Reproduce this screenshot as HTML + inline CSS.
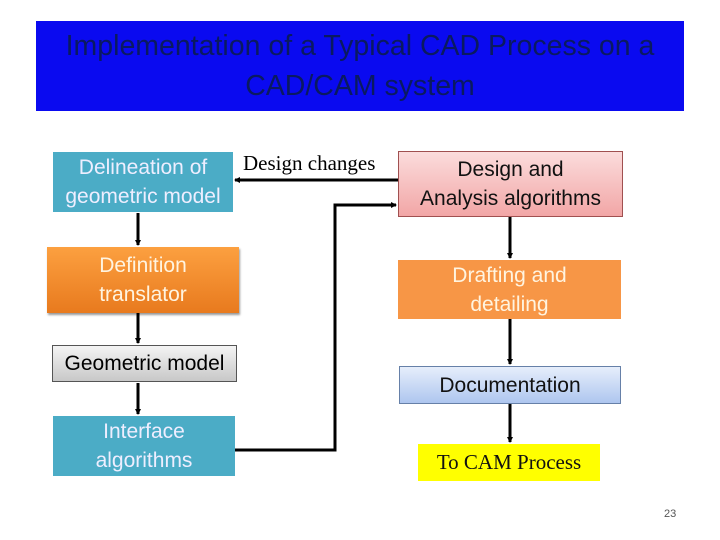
<!DOCTYPE html>
<html><head><style>
body{margin:0;width:720px;height:540px;background:#fff;position:relative;overflow:hidden;font-family:"Liberation Sans",sans-serif}
.b{position:absolute;display:flex;align-items:center;justify-content:center;text-align:center;font-size:21px;line-height:29px;box-sizing:border-box;white-space:nowrap}
</style></head><body>
<div class="b" style="left:36px;top:21px;width:648px;height:90px;background:#0a0af0;color:#0a1a60;font-size:28.5px;line-height:40px">Implementation of a Typical CAD Process on a<br>CAD/CAM system</div>

<div class="b" style="left:53px;top:152px;width:180px;height:60px;background:#4bacc6;color:#eef">Delineation of<br>geometric model</div>
<div class="b" style="left:47px;top:247px;width:192px;height:66px;background:linear-gradient(#fca040,#e87a1e);color:#fff4e0;box-shadow:1px 2px 2px #999">Definition<br>translator</div>
<div class="b" style="left:52px;top:345px;width:185px;height:37px;background:linear-gradient(#f4f4f4,#c8c8c8);border:1px solid #555;color:#000">Geometric model</div>
<div class="b" style="left:53px;top:416px;width:182px;height:60px;background:#4bacc6;color:#eef">Interface<br>algorithms</div>

<div class="b" style="left:243px;top:148px;width:160px;height:30px;justify-content:flex-start;font-family:'Liberation Serif',serif;font-size:21px">Design changes</div>

<div class="b" style="left:398px;top:151px;width:225px;height:66px;background:linear-gradient(#fbdcdc,#f2a6a6);border:1px solid #a05050;color:#111">Design and<br>Analysis algorithms</div>
<div class="b" style="left:398px;top:260px;width:223px;height:59px;background:#f79646;color:#fff4e0">Drafting and<br>detailing</div>
<div class="b" style="left:399px;top:366px;width:222px;height:38px;background:linear-gradient(#e6eefb,#aec6ef);border:1px solid #6680a8;color:#111">Documentation</div>
<div class="b" style="left:418px;top:444px;width:182px;height:37px;background:#ffff00;font-family:'Liberation Serif',serif;font-size:21px;color:#111">To CAM Process</div>

<div style="position:absolute;left:664px;top:508px;font-size:11px;color:#555">23</div>

<svg width="720" height="540" style="position:absolute;left:0;top:0">
<defs><marker id="a" markerWidth="6" markerHeight="6" refX="5" refY="3" orient="auto" markerUnits="userSpaceOnUse"><path d="M0,0L6,3L0,6z" fill="#000"/></marker></defs>
<g stroke="#000" stroke-width="3" fill="none">
<line x1="138" y1="213" x2="138" y2="245" marker-end="url(#a)"/>
<line x1="138" y1="313" x2="138" y2="343" marker-end="url(#a)"/>
<line x1="138" y1="383" x2="138" y2="414" marker-end="url(#a)"/>
<line x1="398" y1="180" x2="235" y2="180" marker-end="url(#a)"/>
<polyline points="235,450 335,450 335,205 396,205" marker-end="url(#a)"/>
<line x1="510" y1="217" x2="510" y2="258" marker-end="url(#a)"/>
<line x1="510" y1="319" x2="510" y2="364" marker-end="url(#a)"/>
<line x1="510" y1="404" x2="510" y2="442" marker-end="url(#a)"/>
</g></svg>
</body></html>
